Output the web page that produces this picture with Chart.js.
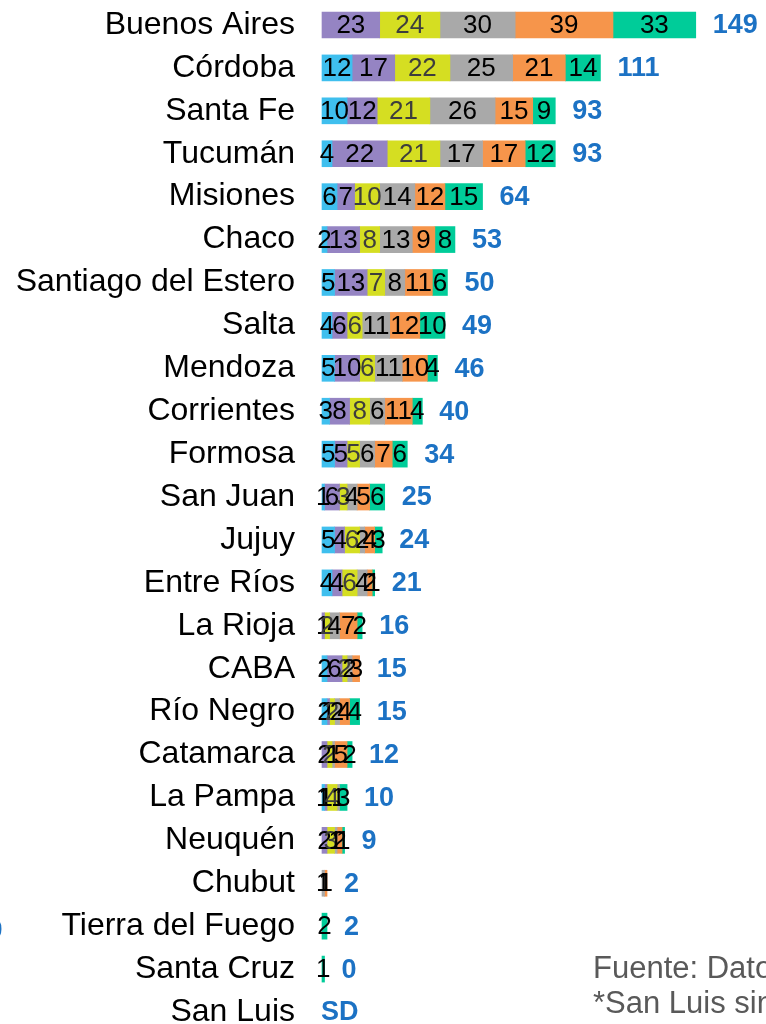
<!DOCTYPE html>
<html lang="es">
<head>
<meta charset="utf-8">
<script src="https://cdn.jsdelivr.net/npm/chart.js@4/dist/chart.umd.min.js"></script>
<style>
  html, body { margin: 0; padding: 0; background: #fff; overflow: hidden; }
  #wrap { position: relative; width: 766px; height: 1024px; overflow: hidden; }
  #chart-box { position: absolute; left: 0; top: 0; width: 766px; height: 1024px; }
  .note { position: absolute; left: 593px; font-family: "Liberation Sans", Arial, sans-serif;
          font-size: 31px; color: #595959; white-space: nowrap; }
  .cut { position: absolute; left: -14px; top: 912px; font-family: "Liberation Sans", Arial, sans-serif;
         font-size: 30px; font-weight: bold; color: #1c72c4; }
</style>
</head>
<body>
<div id="wrap">
  <div id="chart-box"><canvas id="chart"></canvas></div>
  <span class="cut">0</span>
  <div class="note" style="top:950px">Fuente: Datos oficiales</div>
  <div class="note" style="top:985px">*San Luis sin datos</div>
</div>
<script>
// provincias, de arriba hacia abajo
const provincias = [
  "Buenos Aires", "Córdoba", "Santa Fe", "Tucumán", "Misiones", "Chaco",
  "Santiago del Estero", "Salta", "Mendoza", "Corrientes", "Formosa", "San Juan",
  "Jujuy", "Entre Ríos", "La Rioja", "CABA", "Río Negro", "Catamarca",
  "La Pampa", "Neuquén", "Chubut", "Tierra del Fuego", "Santa Cruz", "San Luis"
];

// segmentos de cada barra (izquierda a derecha)
const serie1 = [0, 12, 10, 4, 6, 2, 5, 4, 5, 3, 5, 1, 5, 4, 0, 2, 2, 0, 1, 0, 0, 0, 0, 0];
const serie2 = [23, 17, 12, 22, 7, 13, 13, 6, 10, 8, 5, 6, 4, 4, 1, 6, 1, 2, 1, 2, 0, 0, 0, 0];
const serie3 = [24, 22, 21, 21, 10, 8, 7, 6, 6, 8, 5, 3, 6, 6, 2, 2, 2, 2, 4, 3, 0, 0, 0, 0];
const serie4 = [30, 25, 26, 17, 14, 13, 8, 11, 11, 6, 6, 4, 2, 4, 4, 2, 2, 1, 1, 1, 1, 0, 0, 0];
const serie5 = [39, 21, 15, 17, 12, 9, 11, 12, 10, 11, 7, 5, 4, 2, 7, 3, 4, 5, 0, 2, 1, 0, 0, 0];
const serie6 = [33, 14, 9, 12, 15, 8, 6, 10, 4, 4, 6, 6, 3, 1, 2, 0, 4, 2, 3, 1, 0, 2, 1, 0];

// totales tal como aparecen en la figura
const totales = ["149", "111", "93", "93", "64", "53", "50", "49", "46", "40", "34", "25",
  "24", "21", "16", "15", "15", "12", "10", "9", "2", "2", "0", "SD"];

const colores = ["#3fbfee", "#9584c3", "#d5de22", "#a9a9a9", "#f6954b", "#00cc99"];
const FONT = '"Liberation Sans", Arial, sans-serif';

// etiquetas dentro de los segmentos y totales al final
const barLabels = {
  id: "barLabels",
  afterDatasetsDraw(chart) {
    const ctx = chart.ctx;
    const xs = chart.scales.x;
    const ys = chart.scales.y;
    ctx.save();
    ctx.textBaseline = "middle";
    ctx.textAlign = "center";
    ctx.font = "26px " + FONT;
    chart.data.datasets.forEach((ds, d) => {
      const meta = chart.getDatasetMeta(d);
      meta.data.forEach((bar, i) => {
        const v = ds.data[i];
        if (!v) return;
        ctx.fillStyle = d === 2 ? "#3d3d3d" : "#000";
        ctx.fillText(String(v), (bar.x + bar.base) / 2, bar.y + 1);
      });
    });

    ctx.font = "bold 27px " + FONT;
    ctx.textAlign = "left";
    ctx.fillStyle = "#1c72c4";
    totales.forEach((t, i) => {
      let sum = 0;
      chart.data.datasets.forEach((ds) => (sum += ds.data[i] || 0));
      let x = xs.getPixelForValue(sum) + 17;
      if (t === "SD") x = xs.getPixelForValue(0) - 1;
      ctx.fillText(t, x, ys.getPixelForValue(i) + 1);
    });
    ctx.restore();
  },
};

const series = [serie1, serie2, serie3, serie4, serie5, serie6];

new Chart(document.getElementById("chart"), {
  type: "bar",
  data: {
    labels: provincias,
    datasets: series.map((s, k) => ({
      label: "Serie " + (k + 1),
      // ceros fuera, para que no quede una línea fina
      data: s.map((v) => (v === 0 ? null : v)),
      backgroundColor: colores[k],
      borderWidth: 0,
      barThickness: 26,
      clip: false,
    })),
  },
  plugins: [barLabels],
  options: {
    indexAxis: "y",
    responsive: true,
    maintainAspectRatio: false,
    animation: false,
    layout: { padding: { top: 25, bottom: 12, left: 0, right: 0 } },
    plugins: {
      legend: { display: false },
      tooltip: { enabled: false },
    },
    scales: {
      x: {
        stacked: true,
        display: false,
        min: 0,
        max: 177,
      },
      y: {
        stacked: true,
        offset: false,
        grid: { display: false, drawTicks: false, tickLength: 0 },
        border: { display: false },
        ticks: {
          autoSkip: false,
          padding: 27,
          color: "#000",
          font: { family: FONT, size: 32 },
        },
        afterFit(scale) {
          scale.width = 322;
          scale.paddingTop = 0;
          scale.paddingBottom = 0;
        },
      },
    },
  },
});
</script>
</body>
</html>
